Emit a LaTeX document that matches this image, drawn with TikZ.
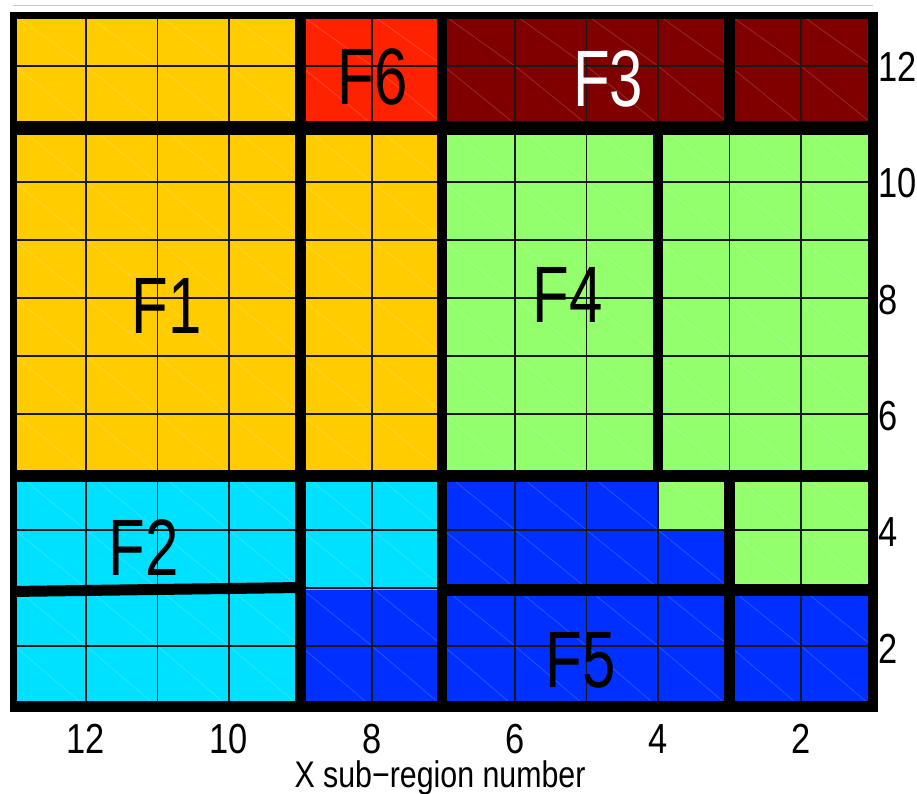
\documentclass[tikz,border=0pt]{standalone}
\usepackage{fontspec}
\setmainfont{Liberation Sans}
\newfontfamily\labfont[FakeStretch=0.82]{Liberation Sans}
\newfontfamily\bigfont[FakeStretch=0.75]{Liberation Sans}
\definecolor{cyel}{HTML}{FFCC00}
\definecolor{cred}{HTML}{FF2200}
\definecolor{cdark}{HTML}{800000}
\definecolor{cgreen}{HTML}{93FF6C}
\definecolor{ccyan}{HTML}{00E1FF}
\definecolor{cblue}{HTML}{0030FF}
\tikzset{
  biglab/.style={font=\bigfont\fontsize{80}{80}\selectfont, inner sep=0pt, anchor=base},
  axlab/.style={font=\labfont\fontsize{42}{42}\selectfont, inner sep=0pt},
  caplab/.style={font=\labfont\fontsize{37}{37}\selectfont, inner sep=0pt, anchor=base},
  gridline/.style={black!90, line width=1.1pt},
  diagline/.style={white, opacity=0.16, line width=0.8pt},
  wall/.style={fill=black}
}
\begin{document}
\begin{tikzpicture}[x=1pt,y=-1pt]
\useasboundingbox (0,0) rectangle (917,793);
% faint shadow line at top
\draw[black!22, line width=1.5pt] (13,5.5) -- (873,5.5);
% ---- region fills ----
\fill[cyel] (14,15) rectangle (300.5,476);
\fill[cyel] (300.5,128) rectangle (442,476);
\fill[cred] (300.5,15) rectangle (442,128);
\fill[cdark] (442,15) rectangle (873,128);
\fill[cgreen] (442,128) rectangle (873,476);
\fill[ccyan] (14,476) rectangle (442,590);
\fill[ccyan] (14,590) rectangle (300.5,707);
\fill[cblue] (300.5,590) rectangle (442,707);
\fill[cblue] (442,476) rectangle (729.5,590);
\fill[cgreen] (658,476) rectangle (729.5,530);
\fill[cgreen] (729.5,476) rectangle (873,590);
\fill[cblue] (442,590) rectangle (873,707);
% ---- faint diagonals in each cell ----
\foreach \yt/\yb in {15/66,66/124,124/182,182/240,240/298,298/356,356/414,414/472,472/530,530/588,588/646,646/707}{
  \foreach \k in {0,...,11}{
    \draw[diagline] ({14.5+71.5*\k},\yt) -- ({86+71.5*\k},\yb);
  }
}
% ---- thin grid ----
\foreach \k in {1,...,11}{
  \draw[gridline] ({14.5+71.5*\k},15) -- ({14.5+71.5*\k},707);
}
\foreach \j in {1,...,11}{
  \draw[gridline] (14,{8+58*\j}) -- (873,{8+58*\j});
}
% ---- thick walls ----
\fill[wall] (10,12) rectangle (17,712);
\fill[wall] (10,12) rectangle (878,19);
\fill[wall] (868,12) rectangle (878,712);
\fill[wall] (10,701) rectangle (878,712);
\fill[wall] (10,121) rectangle (878,135);
\fill[wall] (295,12) rectangle (306,712);
\fill[wall] (437,12) rectangle (447,712);
\fill[wall] (724,12) rectangle (735,135);
\fill[wall] (724,470) rectangle (735,712);
\fill[wall] (10,470) rectangle (878,482);
\fill[wall] (653,121) rectangle (663,482);
\fill[wall] (10,586) -- (300,582) -- (300,593) -- (10,597) -- cycle;
\fill[wall] (437,584) rectangle (878,596);
% ---- region labels ----
\node[biglab] (f6) at (373,104) {F6};
\node[biglab, text=white] (f3) at (608,106) {F3};
\node[biglab] (f1) at (167,333) {F1};
\node[biglab] (f4) at (568,322) {F4};
\node[biglab] (f2) at (144,575) {F2};
\node[biglab] (f5) at (581,687) {F5};
% ---- axis labels ----
\foreach \v/\k in {12/1,10/3,8/5,6/7,4/9,2/11}{
  \node[axlab, anchor=base] (bx\v) at ({14.5+71.5*\k},753) {\v};
}
\foreach \v/\yy in {12/81,10/197,8/314,6/430,4/546,2/663}{
  \node[axlab, anchor=base west] (ry\v) at (878,\yy) {\v};
}
\node[caplab] (xlab) at (440,787) {X sub−region number};
\end{tikzpicture}
\end{document}
